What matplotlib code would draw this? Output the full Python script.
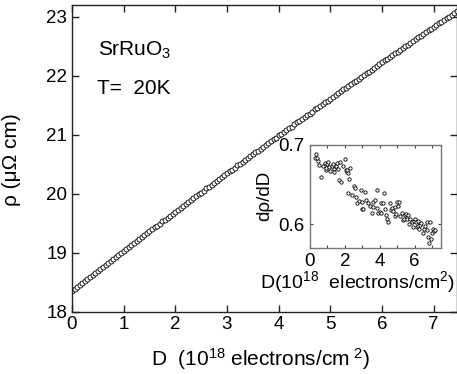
import numpy as np
import matplotlib
matplotlib.use("Agg")
import matplotlib.pyplot as plt

plt.rcParams['font.family'] = ['Liberation Sans', 'DejaVu Sans']
plt.rcParams['mathtext.default'] = 'regular'

# Main curve: resistivity vs. dose (10^18 electrons/cm^2)
dose = [0.00, 0.05, 0.10, 0.15, 0.20, 0.25, 0.30, 0.35, 0.40, 0.45,
        0.50, 0.55, 0.60, 0.65, 0.70, 0.75, 0.80, 0.85, 0.90, 0.95,
        1.00, 1.05, 1.10, 1.15, 1.20, 1.25, 1.30, 1.35, 1.40, 1.45,
        1.50, 1.55, 1.60, 1.65, 1.70, 1.75, 1.80, 1.85, 1.90, 1.95,
        2.00, 2.05, 2.10, 2.15, 2.20, 2.25, 2.30, 2.35, 2.40, 2.45,
        2.50, 2.55, 2.60, 2.65, 2.70, 2.75, 2.80, 2.85, 2.90, 2.95,
        3.00, 3.05, 3.10, 3.15, 3.20, 3.25, 3.30, 3.35, 3.40, 3.45,
        3.50, 3.55, 3.60, 3.65, 3.70, 3.75, 3.80, 3.85, 3.90, 3.95,
        4.00, 4.05, 4.10, 4.15, 4.20, 4.25, 4.30, 4.35, 4.40, 4.45,
        4.50, 4.55, 4.60, 4.65, 4.70, 4.75, 4.80, 4.85, 4.90, 4.95,
        5.00, 5.05, 5.10, 5.15, 5.20, 5.25, 5.30, 5.35, 5.40, 5.45,
        5.50, 5.55, 5.60, 5.65, 5.70, 5.75, 5.80, 5.85, 5.90, 5.95,
        6.00, 6.05, 6.10, 6.15, 6.20, 6.25, 6.30, 6.35, 6.40, 6.45,
        6.50, 6.55, 6.60, 6.65, 6.70, 6.75, 6.80, 6.85, 6.90, 6.95,
        7.00, 7.05, 7.10, 7.15, 7.20, 7.25, 7.30, 7.35, 7.40, 7.45]
rho = [18.35, 18.38, 18.42, 18.45, 18.49, 18.52, 18.56, 18.59, 18.62, 18.66,
       18.69, 18.73, 18.76, 18.79, 18.83, 18.86, 18.89, 18.93, 18.96, 19.00,
       19.03, 19.06, 19.10, 19.13, 19.16, 19.20, 19.23, 19.26, 19.30, 19.33,
       19.36, 19.40, 19.43, 19.46, 19.49, 19.53, 19.56, 19.59, 19.63, 19.66,
       19.69, 19.73, 19.76, 19.79, 19.83, 19.86, 19.89, 19.92, 19.96, 19.99,
       20.02, 20.05, 20.09, 20.12, 20.15, 20.18, 20.22, 20.25, 20.28, 20.31,
       20.35, 20.38, 20.41, 20.44, 20.48, 20.51, 20.54, 20.57, 20.60, 20.64,
       20.67, 20.70, 20.73, 20.76, 20.80, 20.83, 20.86, 20.89, 20.92, 20.95,
       20.99, 21.02, 21.05, 21.08, 21.11, 21.14, 21.18, 21.21, 21.24, 21.27,
       21.30, 21.33, 21.36, 21.39, 21.43, 21.46, 21.49, 21.52, 21.55, 21.58,
       21.61, 21.64, 21.67, 21.71, 21.74, 21.77, 21.80, 21.83, 21.86, 21.89,
       21.92, 21.95, 21.98, 22.01, 22.04, 22.07, 22.10, 22.13, 22.16, 22.20,
       22.23, 22.26, 22.29, 22.32, 22.35, 22.38, 22.41, 22.44, 22.47, 22.50,
       22.53, 22.56, 22.59, 22.62, 22.65, 22.68, 22.71, 22.74, 22.77, 22.80,
       22.83, 22.86, 22.89, 22.92, 22.95, 22.98, 23.00, 23.03, 23.06, 23.09]

# Inset: derivative d(rho)/dD
inset_dose = [0.34, 0.30, 0.40, 0.45, 0.55, 0.61, 0.73, 0.86, 0.90, 0.95,
              1.00, 1.05, 1.10, 1.15, 1.24, 1.30, 1.37, 1.40, 1.49, 1.56,
              1.60, 1.68, 1.72, 1.81, 1.87, 2.00, 2.05, 2.10, 2.10, 2.19,
              2.19, 2.25, 2.29, 2.39, 2.52, 2.58, 2.67, 2.71, 2.82, 2.90,
              2.96, 3.00, 3.05, 3.15, 3.24, 3.34, 3.44, 3.53, 3.60, 3.63,
              3.72, 3.82, 3.85, 3.91, 4.00, 4.10, 4.10, 4.20, 4.24, 4.29,
              4.35, 4.39, 4.48, 4.58, 4.64, 4.73, 4.77, 4.87, 4.90, 4.96,
              5.00, 5.06, 5.10, 5.15, 5.25, 5.31, 5.38, 5.44, 5.53, 5.57,
              5.60, 5.69, 5.76, 5.82, 5.88, 5.95, 6.01, 6.07, 6.11, 6.20,
              6.20, 6.26, 6.30, 6.39, 6.45, 6.53, 6.58, 6.68, 6.72, 6.77,
              6.83, 6.87, 6.91, 7.02, 7.06, 7.10, 7.16]
inset_slope = [0.688, 0.684, 0.683, 0.680, 0.675, 0.659, 0.674, 0.677, 0.668, 0.671,
               0.676, 0.679, 0.672, 0.667, 0.673, 0.676, 0.670, 0.666, 0.674, 0.677,
               0.670, 0.656, 0.679, 0.653, 0.674, 0.682, 0.668, 0.666, 0.668, 0.665,
               0.639, 0.657, 0.671, 0.637, 0.648, 0.645, 0.634, 0.627, 0.629, 0.643,
               0.619, 0.628, 0.619, 0.640, 0.631, 0.627, 0.623, 0.614, 0.622, 0.628,
               0.630, 0.620, 0.643, 0.614, 0.615, 0.627, 0.614, 0.627, 0.639, 0.619,
               0.611, 0.606, 0.602, 0.627, 0.618, 0.620, 0.617, 0.610, 0.621, 0.613,
               0.628, 0.623, 0.628, 0.610, 0.614, 0.605, 0.606, 0.612, 0.613, 0.606,
               0.612, 0.600, 0.606, 0.602, 0.596, 0.604, 0.606, 0.602, 0.596, 0.604,
               0.598, 0.594, 0.599, 0.601, 0.588, 0.594, 0.598, 0.602, 0.592, 0.584,
               0.576, 0.602, 0.581, 0.588, 0.594, 0.591, 0.592]

fig = plt.figure(figsize=(4.57, 3.74), dpi=100)

# Main panel
ax = fig.add_axes([0.1575, 0.1666, 0.8425, 0.820])
ax.plot(dose, rho, linestyle='none', marker='o', markersize=3.6,
        markerfacecolor='white', markeredgecolor='black', markeredgewidth=0.6)
ax.set_xlim(0, 7.45)
ax.set_ylim(18, 23.2)
ax.set_xticks(range(0, 8))
ax.set_yticks(range(18, 24))
ax.tick_params(direction='in', top=True, right=True, length=5, width=1,
               labelsize=13.5, color='#222222')
ax.tick_params(axis='x', pad=3)
for sp in ax.spines.values():
    sp.set_color('#222222')
    sp.set_linewidth(1)
ax.set_xlabel('D  (10$^{18}$ electrons/cm$^{\\ 2}$)', fontsize=15, va='center')
ax.xaxis.set_label_coords(0.49, -0.155)
ax.set_ylabel('ρ (μΩ cm)', fontsize=15, va='center')
ax.yaxis.set_label_coords(-0.156, 0.495)

ax.text(0.068, 0.853, 'SrRuO$_3$', transform=ax.transAxes, fontsize=15,
        va='center', ha='left')
ax.text(0.066, 0.729, 'T=  20K', transform=ax.transAxes, fontsize=15,
        va='center', ha='left')

# Inset panel
ins = fig.add_axes([0.678, 0.3377, 0.2867, 0.2746])
ins.plot(inset_dose, inset_slope, linestyle='none', marker='o', markersize=2.4,
         markerfacecolor='white', markeredgecolor='black', markeredgewidth=0.6)
ins.set_xlim(0, 7.5)
ins.set_ylim(0.570, 0.700)
ins.set_xticks(range(0, 8))
ins.set_xticklabels(['0', '', '2', '', '4', '', '6', ''])
ins.set_yticks([0.6, 0.7])
ins.set_yticklabels(['0.6', '0.7'])
ins.tick_params(direction='in', top=True, right=True, length=2.5, width=0.8,
                labelsize=13.5, color='#444444', pad=4)
for sp in ins.spines.values():
    sp.set_color('#777777')
    sp.set_linewidth(1)
ins.set_xlabel('D(10$^{18}$  electrons/cm$^{2}$)', fontsize=14, va='center')
ins.xaxis.set_label_coords(0.366, -0.335)
ins.set_ylabel('dρ/dD', fontsize=13.5, va='center')
ins.yaxis.set_label_coords(-0.343, 0.5)

fig.savefig('out.png', dpi=100)
